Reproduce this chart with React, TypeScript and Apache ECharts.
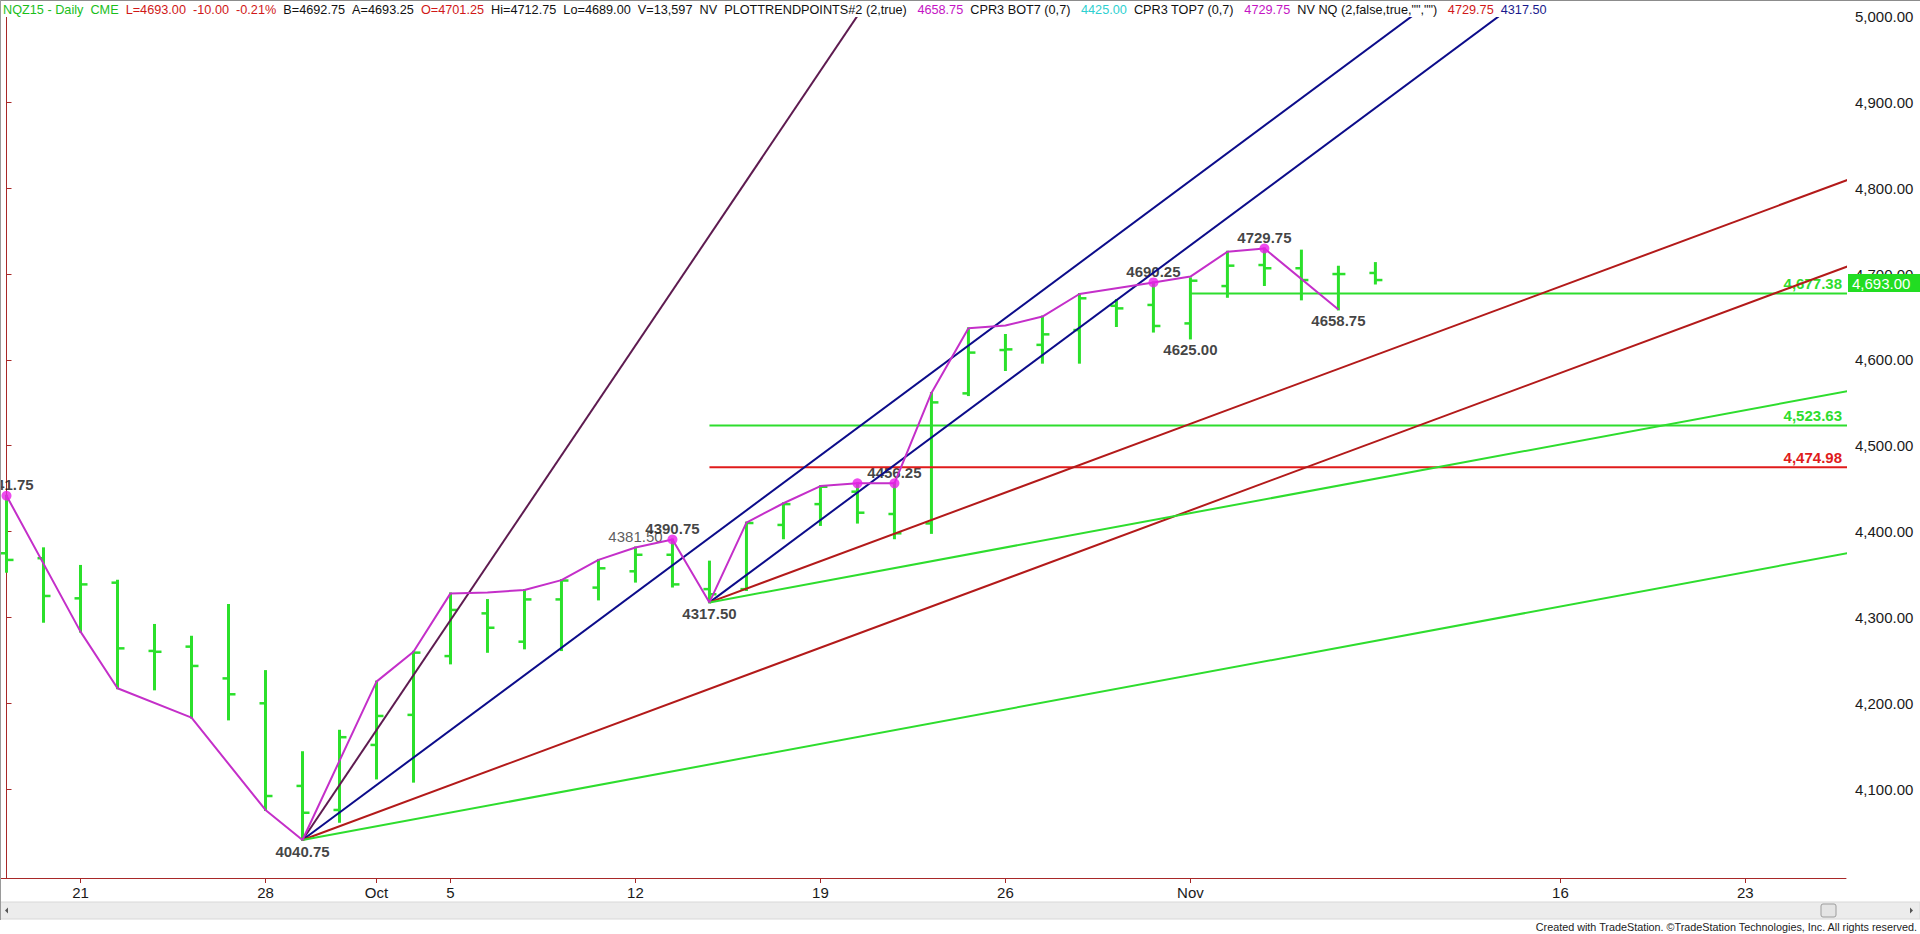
import React, { useEffect, useRef } from 'react';
import * as echarts from 'echarts';

// ---- Data (bar index 0 = Sep 17 2015, trading days only) ----
const barDates = ['Sep 17','Sep 18','Sep 21','Sep 22','Sep 23','Sep 24','Sep 25','Sep 28','Sep 29','Sep 30',
  'Oct 1','Oct 2','Oct 5','Oct 6','Oct 7','Oct 8','Oct 9','Oct 12','Oct 13','Oct 14','Oct 15','Oct 16',
  'Oct 19','Oct 20','Oct 21','Oct 22','Oct 23','Oct 26','Oct 27','Oct 28','Oct 29','Oct 30',
  'Nov 2','Nov 3','Nov 4','Nov 5','Nov 6','Nov 9'];
const opens = [4374.75,4369,4322.25,4340.5,4261,4266,4229,4200,4103.75,4075.75,
  4151.5,4186.5,4255,4304.75,4271.75,4321,4334.75,4353.75,4373,4333,4333,4407.75,
  4432,4446.5,4420.5,4409.5,4561,4611.5,4617.5,4634.75,4663,4664,
  4642.5,4686,4710.5,4706.75,4700,4701.25];
const highs = [4441.75,4380.5,4360,4342.75,4291.25,4277.5,4314.5,4237.5,4143,4168,
  4225.25,4260,4328,4320.25,4332,4343.5,4367,4381.5,4390.75,4365,4410.5,4433,
  4453,4456.25,4456.25,4561.5,4636.75,4629,4650.5,4676.75,4669.75,4690.25,
  4695,4726,4729.75,4727.25,4708.5,4712.75];
const lows = [4353.25,4295,4283.5,4217.5,4216.25,4183.25,4181.25,4075.75,4040.75,4062,
  4112.5,4108.75,4246.5,4260,4264,4262,4321,4341.75,4336,4317.5,4332,4392.25,
  4407.75,4410.5,4392.25,4398.5,4559,4588.25,4596.75,4596.75,4639.5,4633,
  4625,4673.5,4687.25,4670.5,4658.75,4689];
const closes = [4367,4325,4338.5,4264,4260,4243.5,4210.5,4092,4072.5,4160.5,
  4185.25,4259,4308.75,4288,4321,4343,4357.25,4373,4338.5,4327,4410,4432,
  4452.25,4422,4398,4550.5,4608.5,4612.25,4629.75,4671.75,4660,4639.5,
  4692.25,4709.75,4706.75,4693,4700,4693];

// date axis labels (bar index positions)
const dateTickIndex = [2, 7, 10, 12, 17, 22, 27, 32, 42, 47];
const dateTickLabels = ['21', '28', 'Oct', '5', '12', '19', '26', 'Nov', '16', '23'];
const priceTicks = [4100, 4200, 4300, 4400, 4500, 4600, 4700, 4800, 4900, 5000];

// swing (trend points) line
const swingIndex = [0, 2, 3, 5, 7, 8, 10, 11, 12, 13, 14, 15, 16, 17, 18, 19, 20, 21, 22, 23, 24, 25, 26, 27, 28, 29, 31, 32, 33, 34, 36];
const swingValue = [4441.75, 4283.5, 4217.5, 4183.25, 4075.75, 4040.75, 4225.25, 4260, 4328, 4329, 4332, 4343.5, 4367, 4381.5, 4390.75, 4317.5, 4410.5, 4433, 4453, 4456.25, 4456.25, 4561.5, 4636.75, 4640, 4650.5, 4676.75, 4690.25, 4697, 4726, 4729.75, 4658.75];
const dotIndex = [0, 18, 23, 24, 31, 34];
const dotValue = [4441.75, 4390.75, 4456.25, 4456.25, 4690.25, 4729.75];

// pivot labels
const pivotIndex = [0, 8, 17, 18, 19, 24, 31, 32, 34, 36];
const pivotValue = [4441.75, 4040.75, 4381.5, 4390.75, 4317.5, 4456.25, 4690.25, 4625, 4729.75, 4658.75];
const pivotText = ['4441.75', '4040.75', '4381.50', '4390.75', '4317.50', '4456.25', '4690.25', '4625.00', '4729.75', '4658.75'];
const pivotSide = ['top', 'bottom', 'top', 'top', 'bottom', 'top', 'top', 'bottom', 'top', 'bottom'];
const pivotBold = [true, true, false, true, true, true, true, true, true, true];

// angle (fan) lines: start index/value -> end index/value
const fanColor = ['#5E1B50', '#0C0C8A', '#0C0C8A', '#B31A1A', '#B31A1A', '#2EDD2E', '#2EDD2E'];
const fanStartIndex = [8, 8, 19, 8, 19, 8, 19];
const fanStartValue = [4040.75, 4040.75, 4317.5, 4040.75, 4317.5, 4040.75, 4317.5];
const fanEndIndex = [24, 41, 45, 50, 50, 50, 50];
const fanEndValue = [5064.75, 5096.75, 5149.5, 4712.75, 4813.5, 4376.75, 4565.5];

// horizontal levels
const levelValue = [4677.38, 4523.63, 4474.98];
const levelStart = [32, 19, 19];
const levelEnd = [50, 50, 50];
const levelLabel = ['4,677.38', '4,523.63', '4,474.98'];
const levelColor = ['#2EDD2E', '#2EDD2E', '#E01B1B'];

const lastPrice = 4693.0;
const lastPriceLabel = '4,693.00';

const X_MIN = -0.176;
const X_MAX = 49.72;
const Y_MIN = 3996.5;
const Y_MAX = 5019.2;

const FONT = '"Liberation Sans", Arial, sans-serif';
const BAR_COLOR = '#2BE02B';
const AXIS_COLOR = '#A82828';

export default function App() {
  const ref = useRef<HTMLDivElement>(null);
  useEffect(() => {
    if (!ref.current) return;
    const chart = echarts.init(ref.current, null, { renderer: 'svg' });

    const series: any[] = [];
    series.push({
      type: 'custom',
      z: 2,
      clip: true,
      silent: true,
      encode: { x: 0, y: [1, 2, 3, 4] },
      data: barDates.map((_, i) => [i, opens[i], highs[i], lows[i], closes[i]]),
      renderItem: (params: any, api: any) => {
        const x = api.value(0);
        const pO = api.coord([x, api.value(1)]);
        const pH = api.coord([x, api.value(2)]);
        const pL = api.coord([x, api.value(3)]);
        const pC = api.coord([x, api.value(4)]);
        return {
          type: 'group',
          children: [
            { type: 'line', shape: { x1: pH[0], y1: pH[1] - 1, x2: pL[0], y2: pL[1] + 1 }, style: { stroke: BAR_COLOR, lineWidth: 3 } },
            { type: 'line', shape: { x1: pO[0] - 6, y1: pO[1], x2: pO[0], y2: pO[1] }, style: { stroke: BAR_COLOR, lineWidth: 2.5 } },
            { type: 'line', shape: { x1: pC[0], y1: pC[1], x2: pC[0] + 7, y2: pC[1] }, style: { stroke: BAR_COLOR, lineWidth: 2.5 } },
          ],
        };
      },
    });
    // pivot labels (under lines)
    series.push({
      type: 'scatter',
      z: 1,
      silent: true,
      symbolSize: 1,
      itemStyle: { color: 'rgba(0,0,0,0)' },
      label: { fontSize: 15, fontFamily: FONT, color: '#111' },
      data: pivotIndex.map((x, k) => ({
        value: [x, pivotValue[k]],
        label: {
          show: true,
          position: pivotSide[k],
          distance: 3,
          formatter: pivotText[k],
          fontWeight: pivotBold[k] ? 'bold' : 'normal',
          color: pivotBold[k] ? '#111' : '#333',
          fontSize: 15,
          fontFamily: FONT,
        },
      })),
    });
    levelValue.forEach((v, k) => {
      series.push({
        type: 'line', z: 3, silent: true, symbol: 'none', clip: true,
        lineStyle: { color: levelColor[k], width: 2 },
        data: [[levelStart[k], v], [levelEnd[k], v]],
      });
    });
    fanColor.forEach((c, k) => {
      series.push({
        type: 'line', z: 3, silent: true, symbol: 'none', clip: true,
        lineStyle: { color: c, width: 2 },
        data: [[fanStartIndex[k], fanStartValue[k]], [fanEndIndex[k], fanEndValue[k]]],
      });
    });
    series.push({
      type: 'line', z: 4, silent: true, symbol: 'none', clip: true,
      lineStyle: { color: '#C42FC9', width: 2 },
      data: swingIndex.map((x, k) => [x, swingValue[k]]),
    });
    series.push({
      type: 'scatter', z: 5, silent: true, symbolSize: 10,
      itemStyle: { color: '#EA1EEA' },
      data: dotIndex.map((x, k) => [x, dotValue[k]]),
    });

    chart.setOption({
      animation: false,
      backgroundColor: '#ffffff',
      grid: { left: 0, top: 0, right: 74, bottom: 56, containLabel: false },
      xAxis: {
        type: 'value', min: X_MIN, max: X_MAX,
        axisLine: { show: true, lineStyle: { color: AXIS_COLOR, width: 1 } },
        axisTick: { show: true, customValues: dateTickIndex, length: 5, lineStyle: { color: AXIS_COLOR } },
        axisLabel: {
          customValues: dateTickIndex, margin: 7, fontSize: 15, fontFamily: FONT, color: '#1a1a1a',
          formatter: (v: number) => {
            const k = dateTickIndex.indexOf(Math.round(v));
            return k >= 0 ? dateTickLabels[k] : '';
          },
        },
        splitLine: { show: false },
      },
      yAxis: {
        type: 'value', position: 'right', min: Y_MIN, max: Y_MAX,
        axisLine: { show: true, lineStyle: { color: AXIS_COLOR, width: 1 } },
        axisTick: { show: true, customValues: priceTicks, length: 5, lineStyle: { color: AXIS_COLOR } },
        axisLabel: {
          customValues: priceTicks, margin: 9, fontSize: 15, fontFamily: FONT, color: '#1a1a1a',
          formatter: (v: number) => v.toLocaleString('en-US', { minimumFractionDigits: 2, maximumFractionDigits: 2 }),
        },
        splitLine: { show: false },
      },
      series,
    });

    const xRight = chart.convertToPixel({ xAxisIndex: 0 }, X_MAX) as number;
    const pyLast = chart.convertToPixel({ yAxisIndex: 0 }, lastPrice) as number;
    const graphics: any[] = [];
    levelValue.forEach((v, k) => {
      const py = chart.convertToPixel({ yAxisIndex: 0 }, v) as number;
      graphics.push({
        type: 'text', z: 1, silent: true, x: xRight - 4, y: py - 10,
        style: { text: levelLabel[k], fill: levelColor[k], font: `bold 15px ${FONT}`, align: 'right', verticalAlign: 'middle' },
      });
    });
    // header band
    graphics.push({ type: 'rect', z: 100, silent: true, shape: { x: 0, y: 0, width: xRight - 1, height: 17 }, style: { fill: '#ffffff' } });
    graphics.push({ type: 'rect', z: 101, silent: true, shape: { x: 0, y: 0, width: 1920, height: 1 }, style: { fill: '#8c8c8c' } });
    graphics.push({ type: 'rect', z: 101, silent: true, shape: { x: 0, y: 0, width: 1, height: 920 }, style: { fill: '#9a9a9a' } });
    const sp2 = '\u00a0\u00a0';
    const sp3 = '\u00a0\u00a0\u00a0';
    const headerText =
      `{g|NQZ15 - Daily${sp2}CME}${sp2}{r|L=4693.00${sp2}-10.00${sp2}-0.21%}${sp2}{k|B=4692.75${sp2}A=4693.25}${sp2}{r|O=4701.25}${sp2}` +
      `{k|Hi=4712.75${sp2}Lo=4689.00${sp2}V=13,597${sp2}NV${sp2}PLOTTRENDPOINTS#2 (2,true)}${sp3}{m|4658.75}${sp2}{k|CPR3 BOT7 (0,7)}${sp3}` +
      `{c|4425.00}${sp2}{k|CPR3 TOP7 (0,7)}${sp3}{m|4729.75}${sp2}{k|NV NQ (2,false,true,"","")}${sp3}{r|4729.75}${sp2}{b|4317.50}`;
    const hs = (fill: string) => ({ fill, color: fill, fontSize: 12.7, fontFamily: FONT });
    graphics.push({
      type: 'text', z: 102, silent: true, x: 3, y: 10,
      style: {
        text: headerText, fontSize: 12.7, fontFamily: FONT, fill: '#111', verticalAlign: 'middle', align: 'left',
        rich: { g: hs('#1BBE1B'), r: hs('#D01818'), k: hs('#111111'), m: hs('#C414C4'), c: hs('#2ED0D0'), b: hs('#1A1A8C') },
      },
    });
    // last price box
    graphics.push({ type: 'rect', z: 50, silent: true, shape: { x: xRight + 2, y: pyLast - 6, width: 1920 - xRight - 2, height: 18 }, style: { fill: '#22DD22' } });
    graphics.push({
      type: 'text', z: 51, silent: true, x: xRight + 6, y: pyLast + 3,
      style: { text: lastPriceLabel, fill: '#ffffff', font: `15px ${FONT}`, align: 'left', verticalAlign: 'middle' },
    });
    // scrollbar
    graphics.push({ type: 'rect', z: 10, silent: true, shape: { x: 0, y: 902, width: 1920, height: 17 }, style: { fill: '#ECECEC', stroke: '#D8D8D8', lineWidth: 1 } });
    graphics.push({ type: 'rect', z: 11, silent: true, shape: { x: 1821, y: 904, width: 15, height: 13, r: 2 }, style: { fill: '#E4E4E4', stroke: '#9C9C9C', lineWidth: 1 } });
    graphics.push({ type: 'polygon', z: 11, silent: true, shape: { points: [[5, 910.5], [8, 907.5], [8, 913.5]] }, style: { fill: '#555' } });
    graphics.push({ type: 'polygon', z: 11, silent: true, shape: { points: [[1913, 910.5], [1910, 907.5], [1910, 913.5]] }, style: { fill: '#555' } });
    graphics.push({
      type: 'text', z: 11, silent: true, x: 1917, y: 927,
      style: { text: 'Created with TradeStation. \u00a9TradeStation Technologies, Inc. All rights reserved.', fill: '#222', font: `10.8px ${FONT}`, align: 'right', verticalAlign: 'middle' },
    });
    chart.setOption({ graphic: graphics });

    return () => chart.dispose();
  }, []);
  return <div ref={ref} style={{ position: 'fixed', left: 0, top: 0, width: '1920px', height: '934px', background: '#fff' }} />;
}
